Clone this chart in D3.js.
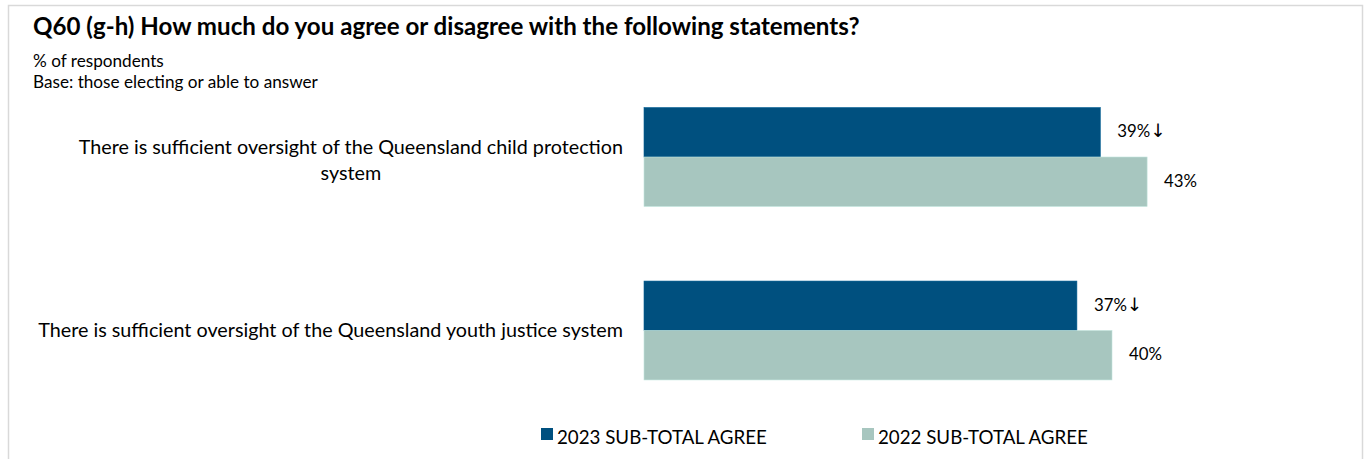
<!DOCTYPE html>
<html>
<head>
<meta charset="utf-8">
<script src="https://cdn.jsdelivr.net/npm/d3@7"></script>
<style>
  html, body { margin: 0; padding: 0; background: #ffffff; }
  svg { display: block; }
  text { font-family: Lato, "Open Sans", sans-serif; fill: #000; }
</style>
</head>
<body>
<svg id="chart" width="1364" height="459"></svg>
<script>
// ---- data ----
const title = "Q60 (g-h) How much do you agree or disagree with the following statements?";
const subtitle = ["% of respondents", "Base: those electing or able to answer"];
const categories = [
  ["There is sufficient oversight of the Queensland child protection", "system"],
  ["There is sufficient oversight of the Queensland youth justice system"]
];
const seriesNames = ["2023 SUB-TOTAL AGREE", "2022 SUB-TOTAL AGREE"];
const values2023 = [39, 37];
const values2022 = [43, 40];
const labelSuffix2023 = ["↓", "↓"];
const labelSuffix2022 = ["", ""];
const colors = ["#00507F", "#A7C6BF"];

// ---- layout ----
const svg = d3.select("#chart");

// frame
svg.append("rect").attr("x", 8.5).attr("y", 5.5).attr("width", 1354).attr("height", 470)
  .attr("fill", "#fff").attr("stroke", "#d9d9d9").attr("stroke-width", 1.5);

function fitText(sel, targetWidth, baseSize) {
  sel.style("font-size", baseSize + "px");
  const w = sel.node().getComputedTextLength();
  const s = baseSize * targetWidth / w;
  sel.style("font-size", s.toFixed(2) + "px");
  return s;
}

// title
const t = svg.append("text").attr("x", 33).attr("y", 35).attr("font-weight", 700).text(title);
fitText(t, 827, 19);

const s1 = svg.append("text").attr("x", 33).attr("y", 67).text(subtitle[0]);
const s2 = svg.append("text").attr("x", 33).attr("y", 88).text(subtitle[1]);
const subSize = fitText(s2, 285, 13);
s1.style("font-size", subSize + "px");

// scales
const x = d3.scaleLinear().domain([0, 50]).range([644, 644 + 50 * 11.7]);
const y = d3.scaleBand().domain(d3.range(categories.length))
  .range([70.25, 417.25]).paddingInner(0.43).paddingOuter(0.215);
const sub = d3.scaleBand().domain([0, 1]).range([0, y.bandwidth()]);

const series = [values2023, values2022];
const suffixes = [labelSuffix2023, labelSuffix2022];

// value label size fitted on "43%"
const vp = svg.append("text").text(values2022[0] + "%");
const valSize = fitText(vp, 33, 14);
vp.remove();

series.forEach((vals, si) => {
  const g = svg.append("g");
  g.selectAll("rect").data(vals).join("rect")
    .attr("x", x(0))
    .attr("y", (d, i) => y(i) + sub(si))
    .attr("width", d => x(d) - x(0))
    .attr("height", sub.bandwidth())
    .attr("fill", colors[si])
    .attr("stroke", d3.color(colors[si]).brighter(0.4))
    .attr("stroke-width", 0.6);
  const lab = g.selectAll("text").data(vals).join("text")
    .attr("x", d => x(d) + 17)
    .attr("y", (d, i) => y(i) + sub(si) + sub.bandwidth() / 2 + 5)
    .style("font-size", valSize + "px");
  lab.append("tspan").text(d => d + "%");
  lab.append("tspan").style("font-family", "DejaVu Sans").style("font-size", (valSize * 1.1) + "px")
    .text((d, i) => suffixes[si][i]);
});

// category labels
const labelRight = 623;
const lineH = 26;
const probe = svg.append("text").text(categories[1][0]);
const catSize = fitText(probe, 585, 16);
probe.remove();

categories.forEach((lines, i) => {
  const cy = y(i) + y.bandwidth() / 2;
  const g = svg.append("g");
  const txts = lines.map(l => g.append("text").style("font-size", catSize + "px").attr("text-anchor", "middle").text(l));
  const maxW = d3.max(txts, tt => tt.node().getComputedTextLength());
  const cx = labelRight - maxW / 2;
  const n = lines.length;
  txts.forEach((tt, k) => {
    tt.attr("x", cx).attr("y", cy + (k - (n - 1) / 2) * lineH + 6 + (n > 1 ? 4 : 0));
  });
});

// legend
const legendItems = [{x: 541, name: seriesNames[0], c: colors[0]}, {x: 862, name: seriesNames[1], c: colors[1]}];
legendItems.forEach(li => {
  svg.append("rect").attr("x", li.x).attr("y", 428).attr("width", 12).attr("height", 12).attr("fill", li.c);
  const lt = svg.append("text").attr("x", li.x + 16).attr("y", 444).text(li.name);
  fitText(lt, 210, 16);
});
</script>
</body>
</html>
